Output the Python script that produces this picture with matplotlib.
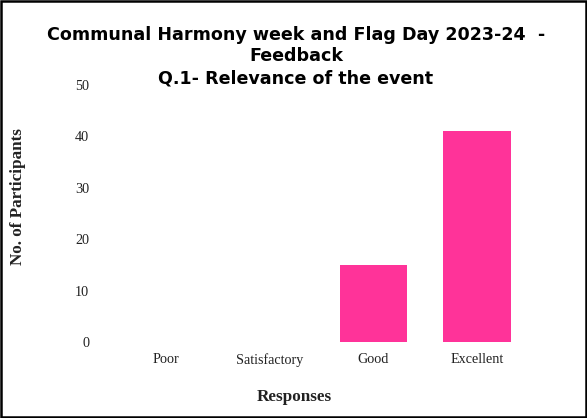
import matplotlib.pyplot as plt
from matplotlib.patches import Rectangle

categories = ["Poor", "Satisfactory", "Good", "Excellent"]
participants = [0, 0, 15, 41]
yticks = [0, 10, 20, 30, 40, 50]

title_lines = ["Communal Harmony week and Flag Day 2023-24  -",
               "Feedback",
               "Q.1- Relevance of the event"]

fig = plt.figure(figsize=(5.87, 4.18), dpi=100)
ax = fig.add_axes([114 / 587, 1 - 342 / 418, 415 / 587, 257 / 418])

ax.bar(range(len(categories)), participants, width=0.65, color="#ff3399")
ax.set_xlim(-0.5, 3.5)
ax.set_ylim(0, 50)
ax.set_yticks(yticks)
ax.set_xticks(range(len(categories)))
ax.set_xticklabels(categories, family="Liberation Serif", fontsize=10.2, color="#222222")
ax.set_yticklabels([str(t) for t in yticks], family="Liberation Serif", fontsize=10.2, color="#222222")
ax.tick_params(axis="x", length=0, pad=8)
ax.tick_params(axis="y", length=0, pad=18)
for s in ax.spines.values():
    s.set_visible(False)

fig.text(18 / 587, 1 - 197 / 418, "No. of Participants", family="Liberation Serif",
         fontweight="bold", fontsize=12.3, color="#222222", ha="center", va="center",
         rotation=90)
fig.text(294 / 587, 1 - 397 / 418, "Responses", family="Liberation Serif",
         fontweight="bold", fontsize=12.3, color="#222222", ha="center", va="center")

for yy, line in zip([35, 56, 78], title_lines):
    fig.text(296 / 587, 1 - yy / 418, line, family="DejaVu Sans", fontweight="bold",
             fontsize=12.6, ha="center", va="center")

fig.patches.append(Rectangle((0.001, 0.002), 0.997, 0.996, transform=fig.transFigure,
                             fill=False, edgecolor="black", linewidth=1.8))

fig.savefig("out.png", dpi=100)
